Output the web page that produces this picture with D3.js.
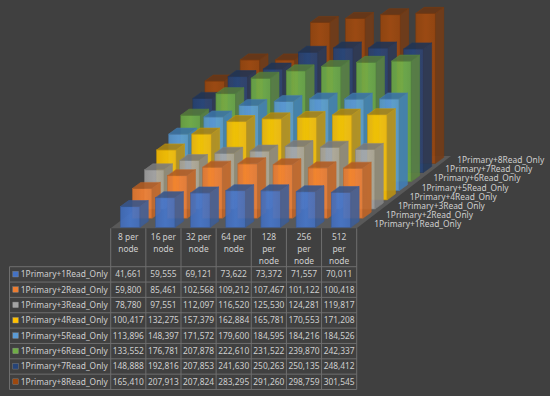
<!DOCTYPE html>
<html>
<head>
<meta charset="utf-8">
<script src="https://cdn.jsdelivr.net/npm/d3@7"></script>
<style>
  html, body { margin: 0; padding: 0; background: #404040; }
  svg { display: block; }
</style>
</head>
<body>
<div id="chart"></div>
<script>
// Chart data
const categories = ['8 per node', '16 per node', '32 per node', '64 per node', '128 per node', '256 per node', '512 per node'];
const headerLines = [['8 per', 'node'], ['16 per', 'node'], ['32 per', 'node'], ['64 per', 'node'], ['128', 'per', 'node'], ['256', 'per', 'node'], ['512', 'per', 'node']];
const seriesNames = ['1Primary+1Read_Only', '1Primary+2Read_Only', '1Primary+3Read_Only', '1Primary+4Read_Only', '1Primary+5Read_Only', '1Primary+6Read_Only', '1Primary+7Read_Only', '1Primary+8Read_Only'];
const seriesColors = ['#4472c4', '#ed7d31', '#a5a5a5', '#ffc000', '#5b9bd5', '#70ad47', '#264478', '#9e480e'];
const read1 = [41661, 59555, 69121, 73622, 73372, 71557, 70011];
const read2 = [59800, 85461, 102568, 109212, 107467, 101122, 100418];
const read3 = [78780, 97551, 112097, 116520, 125530, 124281, 119817];
const read4 = [100417, 132275, 157379, 162884, 165781, 170553, 171208];
const read5 = [113896, 148397, 171572, 179600, 184595, 184216, 184526];
const read6 = [133552, 176781, 207878, 222610, 231522, 239870, 242337];
const read7 = [148888, 192816, 207853, 241630, 250263, 250135, 248412];
const read8 = [165410, 207913, 207824, 283295, 291260, 298759, 301545];
const seriesValues = [read1, read2, read3, read4, read5, read6, read7, read8];

const width = 550;
const height = 396;
const font = '"Noto Sans", sans-serif';
const fontSize = '8.4px';
const textColor = '#cfcfcf';
const lineColor = '#6e6e6e';

const svg = d3.select('#chart')
  .append('svg')
  .attr('width', width)
  .attr('height', height)
  .style('background-color', '#404040');

// Scales: table columns also drive the bar positions
const xScale = d3.scaleBand().domain(categories).range([110.7, 356.7]);
const rowScale = d3.scaleBand().domain(seriesNames).range([266.7, 389.5]);
const yScale = d3.scaleLinear().domain([0, 300000]).range([0, 149.2]);
const depthX = d3.scalePoint().domain(seriesNames).range([0, 84.6]);
const depthY = d3.scalePoint().domain(seriesNames).range([0, -64]);

const baseY = 227.3;
const barWidth = 19.6;
const barDepthX = 8.3;
const barDepthY = 6;

// Floor
svg.append('polygon')
  .attr('points', [[110.7, 228.3], [356.7, 228.3], [451, 156], [205, 156]].join(' '))
  .attr('fill', '#595959');

// One horizontal gradient per series for the front faces
const defs = svg.append('defs');
seriesColors.forEach((c, i) => {
  const grad = defs.append('linearGradient').attr('id', `front${i}`);
  grad.append('stop').attr('offset', '0%').attr('stop-color', d3.color(c).darker(0.12));
  grad.append('stop').attr('offset', '50%').attr('stop-color', d3.color(c).brighter(0.12));
  grad.append('stop').attr('offset', '100%').attr('stop-color', d3.color(c).darker(0.08));
});

// Muted shade for the side and top faces
function shade(color, amount) {
  const hsl = d3.hsl(color);
  hsl.s *= 0.8;
  return hsl.darker(amount);
}

// Bars, back row first
const bars = [];
seriesNames.forEach((name, s) => {
  categories.forEach((cat, c) => {
    bars.push({ name, s, cat, value: seriesValues[s][c], color: seriesColors[s] });
  });
});
bars.sort((a, b) => b.s - a.s);

const barGroups = svg.append('g')
  .selectAll('g')
  .data(bars)
  .join('g')
  .attr('transform', d => {
    const x = xScale(d.cat) + (xScale.bandwidth() - barWidth) / 2 + 1.9 + depthX(d.name);
    return `translate(${x},${baseY + depthY(d.name)})`;
  })
  .attr('opacity', 0.9);

const edge = d => d3.color(d.color).darker(0.6);

// front face
barGroups.append('rect')
  .attr('x', 0)
  .attr('y', d => -yScale(d.value))
  .attr('width', barWidth)
  .attr('height', d => yScale(d.value))
  .attr('fill', d => `url(#front${d.s})`)
  .attr('stroke', edge)
  .attr('stroke-width', 0.6);

// side face
barGroups.append('polygon')
  .attr('points', d => {
    const h = yScale(d.value);
    return [[barWidth, 0], [barWidth + barDepthX, -barDepthY], [barWidth + barDepthX, -h - barDepthY], [barWidth, -h]].join(' ');
  })
  .attr('fill', d => shade(d.color, 0.6))
  .attr('stroke', edge)
  .attr('stroke-width', 0.6);

// top face
barGroups.append('polygon')
  .attr('points', d => {
    const h = yScale(d.value);
    return [[0, -h], [barWidth, -h], [barWidth + barDepthX, -h - barDepthY], [barDepthX, -h - barDepthY]].join(' ');
  })
  .attr('fill', d => shade(d.color, 0.85))
  .attr('stroke', edge)
  .attr('stroke-width', 0.6);

// Depth axis labels
svg.append('g')
  .selectAll('text')
  .data(seriesNames)
  .join('text')
  .attr('x', d => 374.2 + depthX(d) * 83 / 84.6)
  .attr('y', d => 227.2 + depthY(d))
  .style('font-family', font)
  .style('font-size', fontSize)
  .style('fill', textColor)
  .text(d => d);

// Data table
const table = svg.append('g').attr('fill', 'none').attr('stroke', lineColor).attr('stroke-width', 1);
const tableLeft = 9.5;
const tableTop = 228.3;
const rowTop = rowScale.range()[0];
const rowBottom = rowScale.range()[1];
const colEdges = categories.map(c => xScale(c)).concat(xScale.range()[1]);
const rowEdges = seriesNames.map(n => rowScale(n)).concat(rowBottom);

table.selectAll('line.col')
  .data(colEdges)
  .join('line')
  .attr('class', 'col')
  .attr('x1', d => d)
  .attr('x2', d => d)
  .attr('y1', tableTop)
  .attr('y2', rowBottom);

table.selectAll('line.row')
  .data(rowEdges)
  .join('line')
  .attr('class', 'row')
  .attr('x1', tableLeft)
  .attr('x2', xScale.range()[1])
  .attr('y1', d => d)
  .attr('y2', d => d);

table.append('line')
  .attr('x1', tableLeft)
  .attr('x2', tableLeft)
  .attr('y1', rowTop)
  .attr('y2', rowBottom);

// Column headers
const headers = svg.append('g')
  .selectAll('text')
  .data(categories)
  .join('text')
  .attr('text-anchor', 'middle')
  .style('font-family', font)
  .style('font-size', fontSize)
  .style('fill', textColor);

headers.selectAll('tspan')
  .data((d, i) => headerLines[i].map(line => ({ line, cat: d })))
  .join('tspan')
  .attr('x', d => xScale(d.cat) + xScale.bandwidth() / 2)
  .attr('y', (d, i) => 240 + i * 12)
  .text(d => d.line);

// Row legend keys and labels
const rows = svg.append('g')
  .selectAll('g')
  .data(seriesNames)
  .join('g')
  .attr('transform', d => `translate(0,${rowScale(d) + rowScale.bandwidth() / 2})`);

rows.append('rect')
  .attr('x', 12.8)
  .attr('y', -3)
  .attr('width', 5.6)
  .attr('height', 5.6)
  .attr('fill', (d, i) => seriesColors[i])
  .attr('stroke', '#8a8a8a')
  .attr('stroke-width', 0.4);

rows.append('text')
  .attr('x', 20.8)
  .attr('y', 3)
  .style('font-family', font)
  .style('font-size', fontSize)
  .style('fill', textColor)
  .text(d => d);

// Table values
const fmt = d3.format(',');
rows.selectAll('text.val')
  .data((d, s) => categories.map((cat, c) => ({ cat, value: seriesValues[s][c] })))
  .join('text')
  .attr('class', 'val')
  .attr('x', d => xScale(d.cat) + xScale.bandwidth() / 2)
  .attr('y', 3)
  .attr('text-anchor', 'middle')
  .style('font-family', font)
  .style('font-size', fontSize)
  .style('fill', textColor)
  .text(d => fmt(d.value));
</script>
</body>
</html>
